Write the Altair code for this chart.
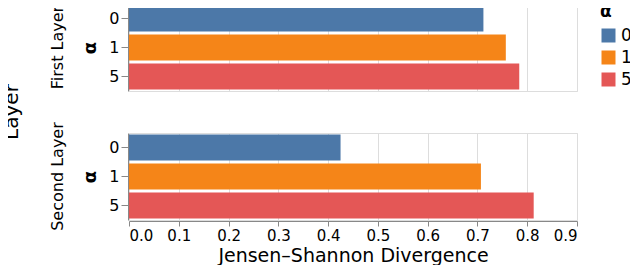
import altair as alt
import pandas as pd

layers = ["First Layer", "First Layer", "First Layer", "Second Layer", "Second Layer", "Second Layer"]
alphas = ["0", "1", "5", "0", "1", "5"]
jsd = [0.712, 0.757, 0.784, 0.425, 0.707, 0.813]

df = pd.DataFrame({"Layer": layers, "α": alphas, "JSD": jsd})

base = alt.Chart(df).mark_bar().encode(
    x=alt.X("JSD:Q", title="Jensen–Shannon Divergence",
            axis=alt.Axis(labelFontSize=15, titleFontSize=19, titleFontWeight="normal",
                          labelFlush=True, tickCount=10, titlePadding=3)),
    y=alt.Y("α:N", title="α",
            axis=alt.Axis(labelFontSize=16, titleFontSize=18, tickSize=7, titlePadding=9)),
    color=alt.Color("α:N", title="α",
                    legend=alt.Legend(titleFontSize=17, labelFontSize=17, symbolSize=196,
                                      symbolType="square", symbolStrokeWidth=0, offset=22,
                                      rowPadding=4, titlePadding=6)),
).properties(width=448, height=87)

chart = base.facet(
    row=alt.Row("Layer:N", title="Layer",
                header=alt.Header(labelFontSize=16, titleFontSize=20, titleFontWeight="normal",
                                  labelPadding=16, titlePadding=17)),
    spacing=40,
).properties(
    padding={"left": -6, "top": -5, "right": -2, "bottom": 0}
).configure(font="DejaVu Sans")

chart.save("out.html", embed_options={"renderer": "svg", "actions": False})
